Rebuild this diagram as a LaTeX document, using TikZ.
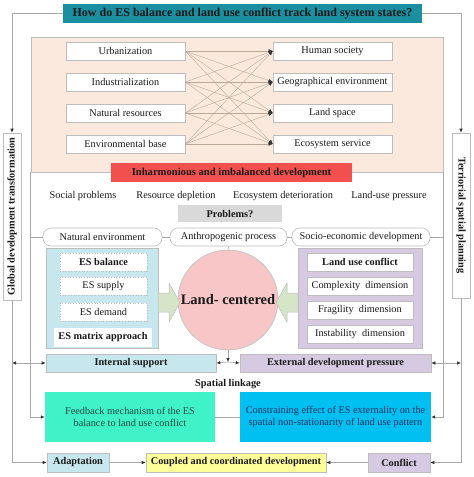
\documentclass[tikz,border=0pt]{standalone}
\usepackage{fontspec}
\setmainfont{Liberation Serif}
\usetikzlibrary{arrows.meta}
\definecolor{txt}{HTML}{1A1A1A}
\definecolor{bord}{HTML}{BDBDBD}
\definecolor{lin}{HTML}{A8A8A8}
\definecolor{tip}{HTML}{333333}
\definecolor{mesh}{HTML}{BBA998}
\definecolor{titlec}{HTML}{1B8FA0}
\definecolor{peachc}{HTML}{FCE9DD}
\definecolor{redc}{HTML}{F24F4F}
\definecolor{grayc}{HTML}{D9D9D9}
\definecolor{bluec}{HTML}{C7E7EF}
\definecolor{lavc}{HTML}{D5CAE2}
\definecolor{greenc}{HTML}{D6E4C8}
\definecolor{circc}{HTML}{F8C6C6}
\definecolor{aquac}{HTML}{40F2C8}
\definecolor{skyc}{HTML}{00C0F2}
\definecolor{yelc}{HTML}{FFFF99}
\definecolor{fbtxt}{HTML}{1E4A42}
\definecolor{cstxt}{HTML}{10305E}
\begin{document}
\begin{tikzpicture}[x=1pt,y=-1pt,
  every node/.style={font=\fontsize{10.3}{12}\selectfont, inner sep=0pt, text=txt},
  bx/.style={draw=bord, line width=0.6pt, fill=white, minimum height=18pt},
  dbx/.style={draw=bord, dotted, line width=0.7pt, fill=white, minimum height=18pt},
  rbx/.style={draw=bord, line width=0.6pt, fill=white, minimum height=18pt, rounded corners=8pt},
  bld/.style={font=\fontsize{10.3}{12}\selectfont\bfseries},
  ar/.style={draw=lin, line width=0.6pt, -{Latex[length=4pt,width=3.5pt,color=tip]}},
  dar/.style={draw=lin, line width=0.6pt, {Latex[length=4pt,width=3.5pt,color=tip]}-{Latex[length=4pt,width=3.5pt,color=tip]}},
  ln/.style={draw=lin, line width=0.6pt},
  mar/.style={draw=mesh, line width=0.4pt, -{Latex[length=4pt,width=3.5pt,color=tip]}}]
\useasboundingbox (0,0) rectangle (474,477);
\fill[white] (0,0) rectangle (474,477);

% peach frame
\node[draw=bord, line width=0.6pt, fill=peachc, minimum width=412pt, minimum height=135pt] (peach) at (237,104.5) {};

% title
\node[fill=titlec, minimum width=359pt, minimum height=19pt, font=\fontsize{12}{14}\selectfont\bfseries] (title) at (242.5,13.5) {How do ES balance and land use conflict track land system states?};

% side boxes
\node[bx, minimum width=18pt, minimum height=167pt] (glob) at (12,216.5) {\rotatebox{90}{\bfseries Global development transformation}};
\node[bx, minimum width=18pt, minimum height=165pt] (terr) at (461,215.5) {\rotatebox{-90}{\bfseries Terriorial spatial planning}};

% left/right columns
\node[bx, minimum width=119pt] (l1) at (125.5,51) {Urbanization};
\node[bx, minimum width=119pt] (l2) at (125.5,82) {Industrialization};
\node[bx, minimum width=119pt] (l3) at (125.5,113) {Natural resources};
\node[bx, minimum width=119pt] (l4) at (125.5,144) {Environmental base};
\node[bx, minimum width=119pt] (r1) at (332.5,51) {Human society};
\node[bx, minimum width=119pt] (r2) at (332.5,82) {Geographical environment};
\node[bx, minimum width=119pt] (r3) at (332.5,113) {Land space};
\node[bx, minimum width=119pt] (r4) at (332.5,144) {Ecosystem service};
\foreach \a in {1,2,3,4}{\foreach \b in {1,2,3,4}{\draw[mar] (l\a.east) -- (r\b.west);}}

% inharmonious
\node[fill=redc, minimum width=241pt, minimum height=19pt, font=\fontsize{10.6}{12}\selectfont\bfseries] (inh) at (231.5,172.5) {Inharmonious and imbalanced development};

% problems
\node (p1) at (83,196) {Social problems};
\node (p2) at (176,196) {Resource depletion};
\node (p3) at (283,196) {Ecosystem deterioration};
\node (p4) at (389,196) {Land-use pressure};
\node[fill=grayc, minimum width=104pt, minimum height=17pt, bld] (prob) at (230,213.5) {Problems?};

% rounded row
\node[rbx, minimum width=119pt] (nat) at (102.5,237) {Natural environment};
\node[rbx, minimum width=117pt] (anth) at (228.5,237) {Anthropogenic process};
\node[rbx, minimum width=138pt] (soc) at (361,237) {Socio-economic development};
\draw[ln] (peach.west |- nat.west) -- (nat.west);
\draw[ln] (nat.east) -- (anth.west);
\draw[ln] (anth.east) -- (soc.west);
\draw[ln] (soc.east) -- (peach.east |- soc.east);

% ES panel
\node[draw=bord, line width=0.6pt, fill=bluec, minimum width=112pt, minimum height=100pt] (esp) at (102,298) {};
\node[dbx, minimum width=87pt, bld] (esb) at (103.5,262) {ES balance};
\node[dbx, minimum width=87pt] (ess) at (103.5,286) {ES supply};
\node[dbx, minimum width=87pt] (esd) at (103.5,312) {ES demand};
\node[fill=white, minimum width=98pt, minimum height=19pt, bld] (esm) at (103,337.5) {ES matrix approach};

% LUC panel
\node[draw=bord, line width=0.6pt, fill=lavc, minimum width=124pt, minimum height=100pt] (lup) at (360,298) {};
\node[bx, minimum width=106pt, bld] (luc) at (360,262) {Land use conflict};
\node[bx, minimum width=106pt] (cd) at (360,286) {Complexity\ \ dimension};
\node[bx, minimum width=106pt] (fd) at (360,310) {Fragility\ \ dimension};
\node[bx, minimum width=106pt] (id) at (360,334) {Instability\ \ dimension};

% circle
\node[circle, draw=bord, line width=0.6pt, fill=circc, minimum size=100pt, font=\fontsize{14.5}{16}\selectfont\bfseries] (land) at (228,300) {Land- centered};
\draw[ln] (anth.south) -- (land.north);

% green arrows
\draw[draw=bord, line width=0.5pt, fill=greenc] (158,293) -- (169,293) -- (169,283) -- (180,302.5) -- (169,322) -- (169,312) -- (158,312) -- cycle;
\draw[draw=bord, line width=0.5pt, fill=greenc] (298,293) -- (287,293) -- (287,283) -- (276,302.5) -- (287,322) -- (287,312) -- (298,312) -- cycle;

% internal/external
\node[draw=bord, line width=0.6pt, fill=bluec, minimum width=170pt, minimum height=18pt, bld] (ins) at (131,363) {Internal support};
\node[draw=bord, line width=0.6pt, fill=lavc, minimum width=191pt, minimum height=18pt, bld] (ext) at (335.5,363) {External development pressure};
\coordinate (mid) at (228,362);
\draw[ar] (land.south) -- (mid);
\draw[ar] (mid) -- (ins.east);
\draw[ar] (mid) -- (ext.west);
\draw[dar] (glob.south |- ins.west) -- (ins.west);
\draw[dar] (ext.east) -- (terr.south |- ext.east);

\node[bld] (sl) at (228,384) {Spatial linkage};

% feedback / constraining
\node[fill=aquac, minimum width=170pt, minimum height=50pt, align=center, text=fbtxt] (fb) at (130,417) {Feedback mechanism of the ES\\balance to land use conflict};
\node[fill=skyc, minimum width=191pt, minimum height=50pt, align=center, text=cstxt] (cs) at (335.5,417) {Constraining effect of ES externality on the\\spatial non-stationarity of land use pattern};
\draw[ln] (fb.east) -- (cs.west);
\draw[ar] (peach.south west) |- (fb.west);
\draw[ar] (peach.south east) |- (cs.east);

% bottom row
\node[draw=bord, line width=0.6pt, fill=bluec, minimum width=62pt, minimum height=19pt, bld] (ada) at (78,462.5) {Adaptation};
\node[draw=bord, line width=0.6pt, fill=yelc, minimum width=180pt, minimum height=19pt, bld] (cop) at (236,462.5) {Coupled and coordinated development};
\node[draw=bord, line width=0.6pt, fill=lavc, minimum width=62pt, minimum height=19pt, bld] (con) at (399,462.5) {Conflict};
\draw[ar] (ada.east) -- (cop.west);
\draw[ar] (con.west) -- (cop.east);

% outer loop
\draw[ar] (title.west) -| (glob.north);
\draw[ar] (title.east) -| (terr.north);
\draw[ar] (glob.south) |- (ada.west);
\draw[ar] (terr.south) |- (con.east);
\end{tikzpicture}
\end{document}
